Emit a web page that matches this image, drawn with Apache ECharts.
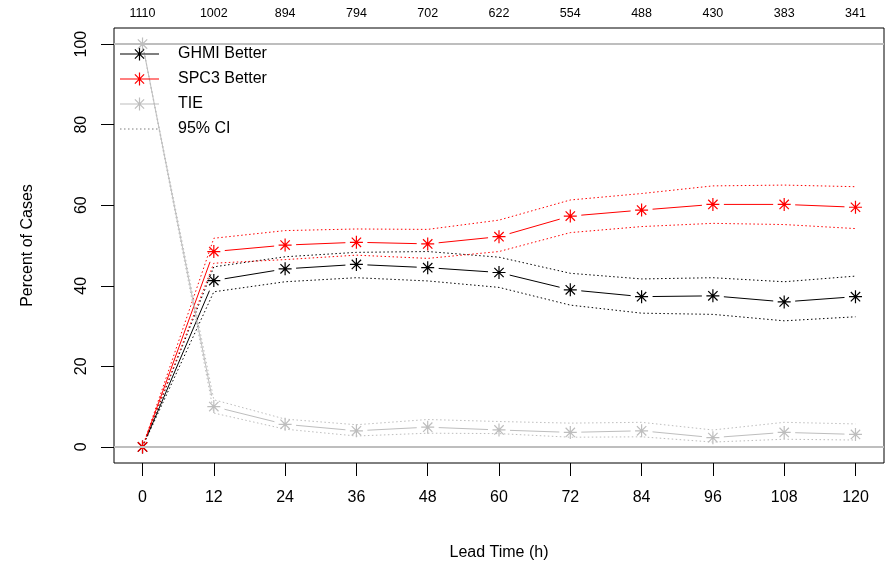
<!DOCTYPE html>
<html>
<head>
<meta charset="utf-8">
<script src="https://cdn.jsdelivr.net/npm/echarts@6/dist/echarts.min.js"></script>
<style>
  html, body { margin: 0; padding: 0; background: #fff; }
  #main { width: 889px; height: 564px; }
</style>
</head>
<body>
<div id="main"></div>
<script>
/* data */
var leadTimes = [0, 12, 24, 36, 48, 60, 72, 84, 96, 108, 120];
var caseCounts = [1110, 1002, 894, 794, 702, 622, 554, 488, 430, 383, 341];
var yTicks = [0, 20, 40, 60, 80, 100];

var ghmi   = [0, 41.3, 44.2, 45.3, 44.5, 43.3, 39.0, 37.3, 37.5, 36.0, 37.3];
var ghmiLo = [0, 38.5, 41.0, 42.0, 41.2, 39.6, 35.2, 33.2, 32.9, 31.3, 32.3];
var ghmiHi = [0, 44.7, 47.2, 48.3, 48.5, 47.1, 43.1, 41.7, 42.0, 41.0, 42.4];

var spc3   = [0, 48.5, 50.1, 50.8, 50.4, 52.2, 57.3, 58.8, 60.2, 60.2, 59.5];
var spc3Lo = [0, 45.6, 46.5, 47.6, 46.8, 48.5, 53.2, 54.7, 55.5, 55.2, 54.2];
var spc3Hi = [0, 51.8, 53.7, 54.1, 54.0, 56.3, 61.3, 62.9, 64.8, 65.0, 64.6];

var tie   = [100, 10.0, 5.6, 4.0, 4.9, 4.2, 3.6, 4.0, 2.3, 3.6, 3.1];
var tieLo = [100, 8.4, 4.4, 2.7, 3.4, 3.3, 2.4, 2.5, 1.2, 1.9, 1.7];
var tieHi = [100, 11.7, 6.9, 5.5, 6.8, 6.3, 5.9, 6.1, 4.2, 6.1, 5.7];

var FONT = 'Liberation Sans, Arial, Helvetica, sans-serif';
var GREY = '#bebebe';
var STAR = 'path://M0,-1L0,1M-1,0L1,0M-0.72,-0.72L0.72,0.72M-0.72,0.72L0.72,-0.72';
var STAR_LEGEND = 'path://M0,6.5L39,6.5M19.5,0L19.5,13M13,6.5L26,6.5M14.9,1.9L24.1,11.1M14.9,11.1L24.1,1.9';

function pairs(ys) {
    return leadTimes.map(function (x, i) { return [x, ys[i]]; });
}

// type = "b" line: segments between points, with a gap round each point
function gapLine(ys, color) {
    var segs = [];
    for (var i = 0; i < leadTimes.length - 1; i++) {
        segs.push([leadTimes[i], ys[i], leadTimes[i + 1], ys[i + 1]]);
    }
    return {
        type: 'custom',
        silent: true,
        z: 3,
        data: segs,
        encode: { x: [0, 2], y: [1, 3] },
        renderItem: function (params, api) {
            var p0 = api.coord([api.value(0), api.value(1)]);
            var p1 = api.coord([api.value(2), api.value(3)]);
            var dx = p1[0] - p0[0], dy = p1[1] - p0[1];
            var len = Math.sqrt(dx * dx + dy * dy);
            var g = 11;
            if (len <= 2 * g) return null;
            var ux = dx / len, uy = dy / len;
            return {
                type: 'line',
                shape: { x1: p0[0] + ux * g, y1: p0[1] + uy * g, x2: p1[0] - ux * g, y2: p1[1] - uy * g },
                style: { stroke: color, lineWidth: 1 }
            };
        }
    };
}

function stars(name, ys, color) {
    return {
        name: name,
        type: 'scatter',
        z: 4,
        data: pairs(ys),
        symbol: STAR,
        symbolSize: 13,
        itemStyle: { color: color, borderColor: color, borderWidth: 1.2, opacity: 1 },
        emphasis: { disabled: true }
    };
}

function ciLine(ys, color) {
    return {
        name: '95% CI',
        type: 'line',
        z: 2,
        data: pairs(ys),
        symbol: 'none',
        lineStyle: { color: color, width: 1, type: [1.5, 2.5] },
        itemStyle: { color: color },
        emphasis: { disabled: true }
    };
}

var chart = echarts.init(document.getElementById('main'));

var option = {
    animation: false,
    backgroundColor: '#fff',
    textStyle: { fontFamily: FONT },
    grid: {
        left: 114, right: 5, top: 28, bottom: 101,
        containLabel: false,
        outerBoundsMode: 'none',
        show: true, borderColor: '#000', borderWidth: 1, backgroundColor: 'transparent'
    },
    legend: {
        orient: 'vertical',
        left: 119,
        top: 46,
        padding: 0,
        itemWidth: 39,
        itemHeight: 13,
        itemGap: 9,
        textStyle: { fontSize: 16, color: '#000', fontFamily: FONT, lineHeight: 16, padding: [0, 0, 0, 14] },
        data: [
            { name: 'GHMI Better', icon: STAR_LEGEND, itemStyle: { color: '#000', borderColor: '#000', borderWidth: 1.2 } },
            { name: 'SPC3 Better', icon: STAR_LEGEND, itemStyle: { color: '#ff0000', borderColor: '#ff0000', borderWidth: 1.2 } },
            { name: 'TIE', icon: STAR_LEGEND, itemStyle: { color: GREY, borderColor: GREY, borderWidth: 1.2 } },
            { name: '95% CI', itemStyle: { color: 'rgba(0,0,0,0)', borderWidth: 0, opacity: 0 } }
        ],
        selectedMode: false
    },
    xAxis: [{
        type: 'value',
        position: 'bottom',
        min: -4.8,
        max: 124.8,
        name: 'Lead Time (h)',
        nameLocation: 'middle',
        nameGap: 82,
        nameTextStyle: { fontSize: 16, color: '#000', fontFamily: FONT },
        axisLine: { show: false, onZero: false },
        axisTick: { show: true, customValues: leadTimes, length: 13, lineStyle: { color: '#000' } },
        axisLabel: { customValues: leadTimes, fontSize: 16, color: '#000', margin: 27, fontFamily: FONT },
        splitLine: { show: false }
    }, {
        type: 'value',
        position: 'top',
        min: -4.8,
        max: 124.8,
        axisLine: { show: false, onZero: false },
        axisTick: { show: false, customValues: leadTimes },
        axisLabel: {
            customValues: leadTimes,
            fontSize: 12.5, color: '#000', margin: 8, fontFamily: FONT,
            formatter: function (v) {
                var i = leadTimes.indexOf(v);
                return i >= 0 ? String(caseCounts[i]) : '';
            }
        },
        splitLine: { show: false }
    }],
    yAxis: {
        type: 'value',
        min: -4,
        max: 104,
        name: 'Percent of Cases',
        nameLocation: 'middle',
        nameGap: 78,
        nameTextStyle: { fontSize: 16, color: '#000', fontFamily: FONT },
        axisLine: { show: false, onZero: false },
        axisTick: { show: true, customValues: yTicks, length: 13, lineStyle: { color: '#000' } },
        axisLabel: { customValues: yTicks, fontSize: 16, color: '#000', rotate: 90, margin: 24, fontFamily: FONT },
        splitLine: { show: false }
    },
    series: [
        {
            type: 'line',
            data: [],
            silent: true,
            markLine: {
                silent: true,
                symbol: 'none',
                label: { show: false },
                lineStyle: { color: GREY, width: 2, type: 'solid' },
                data: [{ yAxis: 0 }, { yAxis: 100 }]
            },
            z: 1
        },
        ciLine(tieLo, GREY),
        ciLine(tieHi, GREY),
        ciLine(ghmiLo, '#000'),
        ciLine(ghmiHi, '#000'),
        ciLine(spc3Lo, '#ff0000'),
        ciLine(spc3Hi, '#ff0000'),
        gapLine(ghmi, '#000'),
        stars('GHMI Better', ghmi, '#000'),
        gapLine(spc3, '#ff0000'),
        stars('SPC3 Better', spc3, '#ff0000'),
        gapLine(tie, GREY),
        stars('TIE', tie, GREY)
    ]
};

chart.setOption(option);
</script>
</body>
</html>
